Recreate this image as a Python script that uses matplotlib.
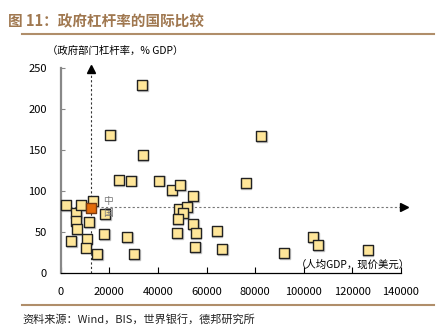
import matplotlib.pyplot as plt

plt.rcParams['font.family'] = ['Noto Sans CJK SC', 'DejaVu Sans']

# 人均GDP (现价美元) 与 政府部门杠杆率 (% GDP)
gdp = [2050, 6290, 6290, 6560, 4240, 8490, 13160, 11640, 10690, 10280,
       15060, 18220, 17950, 20280, 23860, 28920, 27400, 30150, 33440, 33730,
       40560, 45660, 49070, 54550, 48660, 51950, 50310, 48130, 54420, 47840,
       55530, 55370, 64170, 66480, 76100, 82520, 91850, 103900, 105840, 126280]
debt = [83, 73.7, 63.6, 54, 39.3, 83, 88.3, 62, 41.7, 31.2,
        23, 71.7, 48.2, 169, 113.9, 113, 44.5, 23.5, 229.4, 144,
        113, 101, 107.8, 94.4, 78.6, 80.3, 73.8, 66, 59.6, 48.7,
        48.7, 31.6, 51.5, 29.6, 109.9, 167.4, 25, 43.8, 34, 28.3]
china_gdp = [12340]
china_debt = [79]
ref_x = 12500
ref_y = 81

fig = plt.figure(figsize=(4.44, 3.32), dpi=100)
ax = fig.add_axes([60.7 / 444, 1 - 273.3 / 332, (401 - 60.7) / 444, (273.3 - 68) / 332])

ax.plot([ref_x, ref_x], [0, 248], ls=(0, (2, 2)), color='#333333', lw=0.8)
ax.plot([0, 140500], [ref_y, ref_y], ls=(0, (2, 2)), color='#777777', lw=0.8)
ax.plot([ref_x], [249], marker='^', color='black', ms=6, clip_on=False)
ax.plot([141200], [ref_y], marker='>', color='black', ms=6, clip_on=False)

# shadow then marker
ax.scatter([g + 300 for g in gdp], [d - 1 for d in debt], marker='s', s=48,
           color='#c4c4c4', zorder=2, clip_on=False)
ax.scatter(gdp, debt, marker='s', s=42, facecolor='#FFE699', edgecolor='#222222',
           linewidth=1.0, zorder=3, clip_on=False)
ax.scatter(china_gdp, china_debt, marker='s', s=42, facecolor='#E46C0A',
           edgecolor='#7a3a10', linewidth=1.0, zorder=4)
ax.text(19300, 80.5, '中\n国', fontsize=7, color='#777777', ha='center',
        va='center', linespacing=1.3, zorder=5)

ax.set_xlim(0, 140000)
ax.set_ylim(0, 250)
ax.set_xticks(range(0, 140001, 20000))
ax.set_yticks(range(0, 251, 50))
ax.tick_params(axis='x', direction='in', length=4, labelsize=8, color='black', pad=10)
ax.tick_params(axis='y', direction='in', length=3, labelsize=8, color='#888888', pad=10)
for s in ['top', 'right']:
    ax.spines[s].set_visible(False)
ax.spines['left'].set_color('#888888')
ax.spines['left'].set_linewidth(1.6)
ax.spines['bottom'].set_color('black')
ax.spines['bottom'].set_linewidth(0.9)

fig.text(47 / 444, 1 - 51 / 332, '（政府部门杠杆率，% GDP）', fontsize=7.5, va='center')
fig.text(410 / 444, 1 - 265 / 332, '（人均GDP，现价美元）', fontsize=7.5, va='center', ha='right')

fig.text(8 / 444, 1 - 21 / 332, '图 11：政府杠杆率的国际比较', fontsize=10.5, weight='bold',
         color='#A07850', va='center')
fig.add_artist(plt.Line2D([22 / 444, 434 / 444], [1 - 34 / 332] * 2, color='#B08E6A', lw=1.5))
fig.add_artist(plt.Line2D([22 / 444, 434 / 444], [1 - 305 / 332] * 2, color='#B08E6A', lw=1.5))
fig.text(22 / 444, 1 - 319 / 332, '资料来源：Wind，BIS，世界银行，德邦研究所', fontsize=8,
         color='#222222', va='center')

fig.savefig('out.png', dpi=100)
